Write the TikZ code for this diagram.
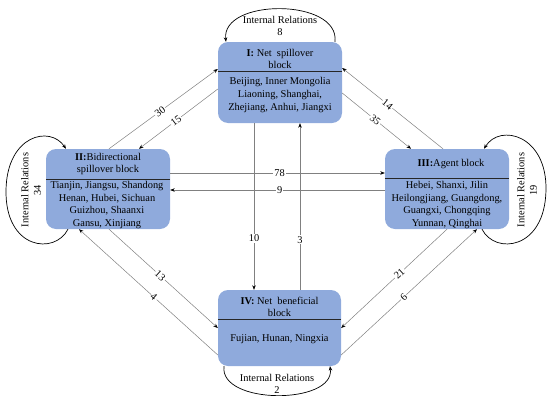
\documentclass[tikz,border=0pt]{standalone}
\usepackage{fontspec}
\setmainfont{Liberation Serif}
\usetikzlibrary{arrows.meta,calc}
\definecolor{blockfill}{HTML}{8FAADC}
\begin{document}
\begin{tikzpicture}[x=1pt,y=-1pt,
  font=\fontsize{10.4}{12.6}\selectfont,
  block/.style={draw=none, fill=blockfill, rounded corners=10pt, minimum width=124pt, inner sep=0pt},
  txt/.style={align=center, inner sep=0pt},
  divider/.style={draw=black!85, line width=0.8pt},
  conn/.style={draw=black!50, line width=0.5pt, -{Stealth[length=4.5pt,width=3.5pt,black]}},
  loopline/.style={draw=black, line width=0.7pt, -{Stealth[length=4.5pt,width=3.5pt,black]}},
  lab/.style={fill=white, inner sep=1pt},
]
\useasboundingbox (0,0) rectangle (550,402);

% blocks
\node[block, minimum height=81pt] (bI) at (280,82.5) {};
\node[block, minimum height=80pt] (bII) at (108,189) {};
\node[block, minimum height=80pt] (bIII) at (447,189) {};
\node[block, minimum width=123pt, minimum height=76pt] (bIV) at (279.5,328) {};

% dividers
\draw[divider] ($(bI.north west)+(0,30)$) -- ($(bI.north east)+(0,30)$);
\draw[divider] ($(bII.north west)+(0,31)$) -- ($(bII.north east)+(0,31)$);
\draw[divider] ($(bIII.north west)+(0,30)$) -- ($(bIII.north east)+(0,30)$);
\draw[divider] ($(bIV.north west)+(0,30)$) -- ($(bIV.north east)+(0,30)$);

% block texts
\node[txt] (tI) at (280,59) {\textbf{I:} Net\ \ spillover\\block};
\node[txt] (sI) at (280,95) {Beijing, Inner Mongolia\\Liaoning, Shanghai,\\Zhejiang, Anhui, Jiangxi};
\node[txt] (tII) at (108,164) {\textbf{II:}Bidirectional\\spillover block};
\node[txt] (sII) at (107,205) {Tianjin, Jiangsu, Shandong\\Henan, Hubei, Sichuan\\Guizhou, Shaanxi\\Gansu, Xinjiang};
\node[txt] (tIII) at (451,164) {\textbf{III:}Agent block};
\node[txt] (sIII) at (447,205) {Hebei, Shanxi, Jilin\\Heilongjiang, Guangdong,\\Guangxi, Chongqing\\Yunnan, Qinghai};
\node[txt] (tIV) at (279.5,307) {\textbf{IV:} Net\ \ beneficial\\block};
\node[txt] (sIV) at (279.5,339) {Fujian, Hunan, Ningxia};

% connectors between blocks
\draw[conn] ($(bII.north)+(1,0)$) -- node[lab, sloped, pos=0.47] {30} ($(bI.west)+(0,-13.5)$);
\draw[conn] ($(bI.west)+(0,6.5)$) -- node[lab, sloped, pos=0.53] {15} ($(bII.north)+(31,0)$);
\draw[conn] ($(bI.east)+(0,10.5)$) -- node[lab, sloped, pos=0.48] {35} ($(bIII.north)+(-36,0)$);
\draw[conn] ($(bIII.north)+(-4,0)$) -- node[lab, sloped, pos=0.55] {14} ($(bI.east)+(0,-14.5)$);
\draw[conn] ($(bII.east)+(0,-16)$) -- node[lab, pos=0.51] {78} ($(bIII.west)+(0,-16)$);
\draw[conn] ($(bIII.west)+(0,1)$) -- node[lab, pos=0.49] {9} ($(bII.east)+(0,1)$);
\draw[conn] ($(bI.south)+(-26,0)$) -- node[lab, pos=0.69] {10} ($(bIV.north)+(-25.5,0)$);
\draw[conn] ($(bIV.north)+(20.5,0)$) -- node[lab, pos=0.30] {3} ($(bI.south)+(20,0)$);
\draw[conn] ($(bII.south)+(1,0)$) -- node[lab, sloped, pos=0.47] {13} (bIV.west);
\draw[conn] ($(bIV.west)+(0,27)$) -- node[lab, sloped, pos=0.46] {4} ($(bII.south)+(-29,0)$);
\draw[conn] (bIII.south) -- node[lab, sloped, pos=0.45] {21} (bIV.east);
\draw[conn] ($(bIV.east)+(0,27)$) -- node[lab, sloped, pos=0.46] {6} ($(bIII.south)+(30,0)$);

% self loops
\draw[loopline] ($(bI.north)+(55,0)$) .. controls (340,-2) and (221,-2) .. ($(bI.north)+(-54,0)$);
\node[txt] (lI) at (280,26) {Internal Relations\\8};

\draw[loopline] ($(bII.south)+(-40,0)$) .. controls (55,255) and (5,250) .. (6,190)
   .. controls (7,135) and (50,125) .. ($(bII.north)+(-42,0)$);
\node[txt, rotate=90] (lII) at (31,190) {Internal Relations\\34};

\draw[loopline] ($(bIII.south)+(35,0)$) .. controls (495,255) and (545,250) .. (546,190)
   .. controls (547,135) and (500,123) .. ($(bIII.north)+(37,0)$);
\node[txt, rotate=90] (lIII) at (527,190) {Internal Relations\\19};

\draw[loopline] ($(bIV.south)+(-55.5,0)$) .. controls (219,405) and (335,405) .. ($(bIV.south)+(50.5,0)$);
\node[txt] (lIV) at (277,384) {Internal Relations\\2};
\end{tikzpicture}
\end{document}
